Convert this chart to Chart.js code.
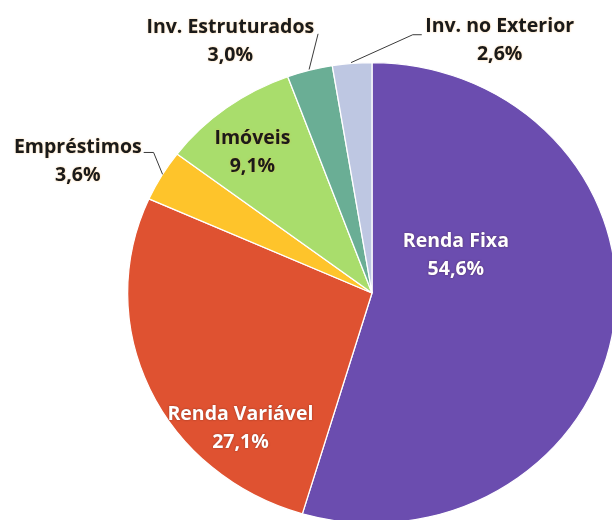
<!DOCTYPE html>
<html><head><meta charset="utf-8">
<script src="https://cdn.jsdelivr.net/npm/chart.js@4"></script>
<style>
html,body{margin:0;padding:0;background:#fff;overflow:hidden;width:612px;height:520px;}
#wrap{position:absolute;left:0;top:0;width:744px;height:600px;}
</style></head>
<body>
<div id="wrap"><canvas id="c"></canvas></div>
<script>
const categories = ['Renda Fixa','Renda Variável','Empréstimos','Imóveis','Inv. Estruturados','Inv. no Exterior'];
const values = [54.6, 27.1, 3.6, 9.1, 3.0, 2.6];
const valueLabels = ['54,6%','27,1%','3,6%','9,1%','3,0%','2,6%'];
const colors = ['#6B4DAF','#DF5231','#FEC42B','#A9DD6C','#6AAE95','#BEC7E2'];
const textColors = ['#ffffff','#ffffff','#1a1a1a','#1a1a1a','#1a1a1a','#1a1a1a'];
// label anchor offsets in units of the (vertical) radius
const labelPos = [[0.364,-0.165],[-0.571,0.588],[-1.277,-0.572],[-0.519,-0.608],[-0.615,-1.09],[0.554,-1.097]];
// leader lines in units of radius
const leaders = {2:[[-0.991,-0.610],[-0.948,-0.610],[-0.909,-0.515]],4:[[-0.234,-1.125],[-0.273,-0.970]],5:[[0.216,-1.121],[0.177,-1.121],[-0.091,-1.0]]};
const SX = 245/231;

const ellipse = {
  id:'ellipse',
  beforeDatasetsDraw(chart){
    const m = chart.getDatasetMeta(0).data[0];
    const ctx = chart.ctx; ctx.save();
    ctx.translate(m.x, m.y); ctx.scale(SX,1); ctx.translate(-m.x,-m.y);
  },
  afterDatasetsDraw(chart){
    chart.ctx.restore();
    const ctx = chart.ctx;
    const m = chart.getDatasetMeta(0).data[0];
    const cx = m.x, cy = m.y, r = m.outerRadius;
    ctx.save();
    ctx.strokeStyle = '#3a3a3a'; ctx.lineWidth = 1;
    Object.keys(leaders).forEach(k=>{
      const pts = leaders[k];
      ctx.beginPath();
      pts.forEach((p,i)=>{ const x=cx+p[0]*r, y=cy+p[1]*r; i?ctx.lineTo(x,y):ctx.moveTo(x,y); });
      ctx.stroke();
    });
    ctx.font = 'bold 19.5px "Open Sans"';
    ctx.textAlign = 'center'; ctx.textBaseline = 'middle';
    categories.forEach((c,i)=>{
      const x = cx + labelPos[i][0]*r, y = cy + labelPos[i][1]*r;
      ctx.fillStyle = textColors[i];
      if (textColors[i] === '#ffffff') { ctx.shadowColor='rgba(60,20,20,0.5)'; }
      else { ctx.shadowColor='rgba(255,170,60,0.55)'; }
      ctx.shadowBlur = 2;
      ctx.fillText(c, x, y - 14);
      ctx.fillText(valueLabels[i], x, y + 14);
    });
    ctx.restore();
  }
};

new Chart(document.getElementById('c'), {
  type:'pie',
  data:{labels:categories, datasets:[{data:values, backgroundColor:colors, borderColor:'#ffffff', borderWidth:1.2}]},
  options:{
    responsive:true, maintainAspectRatio:false, animation:false,
    layout:{padding:{top:62,bottom:76,left:0,right:0}},
    plugins:{legend:{display:false}, tooltip:{enabled:false}}
  },
  plugins:[ellipse]
});
</script>
</body></html>
